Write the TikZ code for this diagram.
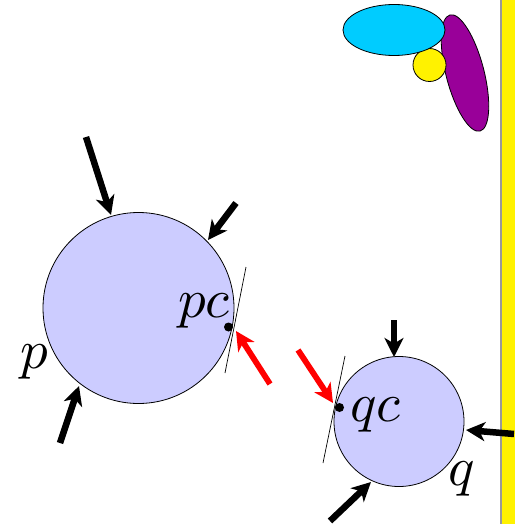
\documentclass[tikz,border=0pt]{standalone}
\usetikzlibrary{arrows.meta,shapes.geometric}
\definecolor{lav}{RGB}{204,204,255}
\definecolor{cyanb}{RGB}{0,204,255}
\definecolor{purp}{RGB}{153,0,153}
\tikzset{
  body/.style={circle, draw=black, line width=0.8pt, fill=lav, inner sep=0pt},
  force/.style={line width=6.5pt, -{Stealth[length=19pt,width=19pt,inset=5.5pt]}},
  redforce/.style={force, line width=5.8pt, red},
  tangent/.style={line width=0.7pt},
  dotc/.style={circle, fill=black, inner sep=0pt, minimum size=9pt},
  lbl/.style={anchor=base west, inner sep=0pt, scale=5.5},
  blob/.style={draw=black, line width=0.8pt, inner sep=0pt}
}
\begin{document}
\begin{tikzpicture}[x=1pt,y=-1pt]
\useasboundingbox (0,0) rectangle (514,524);
% yellow wall
\path[fill=yellow, draw=gray!80, line width=1.5pt] (501,-3) rectangle (518,528);
% decorative blobs
\node[blob, ellipse, fill=purp, minimum width=38pt, minimum height=120pt, rotate=14.5] (pu) at (465,73) {};
\node[blob, circle, fill=yellow, minimum size=33pt] (ye) at (429.5,65) {};
\node[blob, ellipse, fill=cyanb, minimum width=102pt, minimum height=51pt] (cy) at (394,30) {};
% bodies
\node[body, minimum size=191pt] (p) at (138.5,308) {};
\node[body, minimum size=130pt] (q) at (399,421.5) {};
% tangent lines
\coordinate (pt1) at (246,267);
\coordinate (pt2) at (225,373);
\coordinate (qt1) at (345,356);
\coordinate (qt2) at (323,463);
\draw[tangent] (pt1) -- (pt2);
\draw[tangent] (qt1) -- (qt2);
% contact points
\node[dotc] (pcd) at (228.5,327) {};
\node[dotc] (qcd) at (339.5,407.5) {};
% labels
\node[lbl] (pl) at (19,368) {$p$};
\node[lbl] (pcl) at (177,317) {$pc$};
\node[lbl] (qcl) at (349,421) {$qc$};
\node[lbl] (ql) at (447,485) {$q$};
% black forces
\coordinate (a1s) at (86,137);  \coordinate (a1e) at (111,215);
\coordinate (a2s) at (236,203); \coordinate (a2e) at (208,240);
\coordinate (a3s) at (60,443);  \coordinate (a3e) at (79,386);
\coordinate (a4s) at (394,320); \coordinate (a4e) at (394,357);
\coordinate (a5s) at (514,434); \coordinate (a5e) at (466,430);
\coordinate (a6s) at (330,521); \coordinate (a6e) at (371,482);
\draw[force] (a1s) -- (a1e);
\draw[force] (a2s) -- (a2e);
\draw[force] (a3s) -- (a3e);
\draw[force] (a4s) -- (a4e);
\draw[force] (a5s) -- (a5e);
\draw[force] (a6s) -- (a6e);
% red contact forces
\coordinate (r1s) at (270,384); \coordinate (r1e) at (236,331);
\coordinate (r2s) at (298,350); \coordinate (r2e) at (333,403);
\draw[redforce] (r1s) -- (r1e);
\draw[redforce] (r2s) -- (r2e);
\end{tikzpicture}
\end{document}
